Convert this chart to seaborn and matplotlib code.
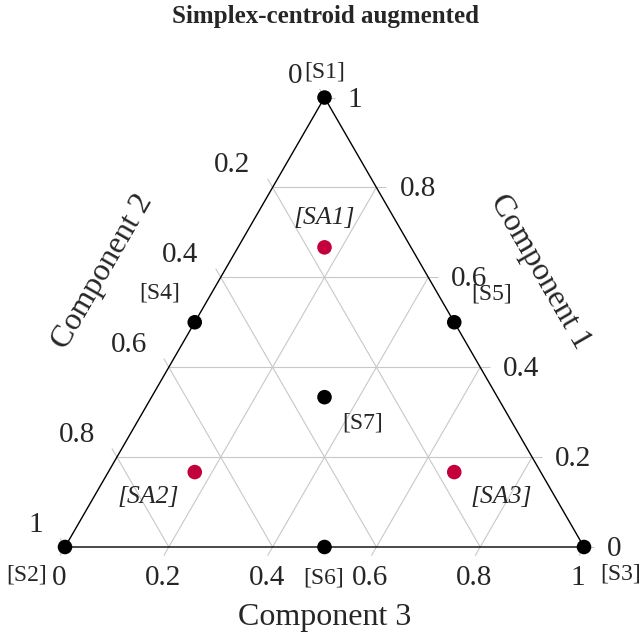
import numpy as np
import pandas as pd
import matplotlib
matplotlib.use("Agg")
import matplotlib.pyplot as plt
import seaborn as sns

# Design points of the augmented simplex-centroid design (three components)
point_names = ["S1", "S2", "S3", "S4", "S5", "S6", "S7", "SA1", "SA2", "SA3"]
comp1 = [1, 0, 0, 1/2, 1/2, 0, 1/3, 2/3, 1/6, 1/6]
comp2 = [0, 1, 0, 1/2, 0, 1/2, 1/3, 1/6, 2/3, 1/6]
comp3 = [0, 0, 1, 0, 1/2, 1/2, 1/3, 1/6, 1/6, 2/3]
point_kind = ["design"] * 7 + ["augmented"] * 3

tick_values = [0, 0.2, 0.4, 0.6, 0.8, 1]
tick_labels = ["0", "0.2", "0.4", "0.6", "0.8", "1"]

title = "Simplex-centroid augmented"
axis_titles = ["Component 1", "Component 2", "Component 3"]

sns.set_theme(style="white")
plt.rcParams["font.family"] = ["Liberation Serif", "DejaVu Serif"]

SIDE = 519.0  # triangle side in pixels
H = np.sqrt(3) / 2


def tern(a, b, c):
    """Ternary (c1, c2, c3) -> cartesian; c2 at bottom-left, c3 at bottom-right."""
    a, b, c = np.asarray(a, float), np.asarray(b, float), np.asarray(c, float)
    return c + a / 2, a * H


def px(dx, dy):
    """Pixel offset (y down) -> data offset."""
    return dx / SIDE, -dy / SIDE


fig = plt.figure(figsize=(6.43, 6.40), dpi=100)
ax = fig.add_axes([0, 0, 1, 1])
ax.set_xlim(-65 / SIDE, 578 / SIDE)
ax.set_ylim(-93 / SIDE, 547 / SIDE)
ax.axis("off")

grid_kw = dict(color="#c8c8c8", lw=0.8, zorder=1, solid_capstyle="butt")
tick_len = 10 / SIDE

# Grid lines and outward tick marks for each component
for v in tick_values:
    # Component 1: horizontal lines, ticks leave the right edge
    x0, y0 = tern(v, 1 - v, 0)
    x1, y1 = tern(v, 0, 1 - v)
    if 0 < v < 1:
        ax.plot([x0, x1], [y0, y1], **grid_kw)
    ax.plot([x1, x1 + tick_len], [y1, y1], **grid_kw)
    # Component 2: lines parallel to the right edge, ticks leave the left edge
    x0, y0 = tern(1 - v, v, 0)
    x1, y1 = tern(0, v, 1 - v)
    if 0 < v < 1:
        ax.plot([x0, x1], [y0, y1], **grid_kw)
    ax.plot([x0, x0 - 0.5 * tick_len], [y0, y0 + H * tick_len], **grid_kw)
    # Component 3: lines parallel to the left edge, ticks leave the bottom edge
    x0, y0 = tern(0, 1 - v, v)
    x1, y1 = tern(1 - v, 0, v)
    if 0 < v < 1:
        ax.plot([x0, x1], [y0, y1], **grid_kw)
    ax.plot([x0, x0 - 0.5 * tick_len], [y0, y0 - H * tick_len], **grid_kw)

# Triangle outline
tx, ty = tern([1, 0, 0, 1], [0, 1, 0, 0], [0, 0, 1, 0])
ax.plot(tx, ty, color="black", lw=1.0, zorder=2)

# Tick labels
tick_fs = 21
for v, lab in zip(tick_values, tick_labels):
    x, y = tern(v, 0, 1 - v)
    dx, dy = px(23, 2)
    ax.text(x + dx, y + dy, lab, ha="left", va="center", fontsize=tick_fs)
    x, y = tern(1 - v, v, 0)
    dx, dy = px(-22, -22)
    ax.text(x + dx, y + dy, lab, ha="right", va="center", fontsize=tick_fs)
    x, y = tern(0, 1 - v, v)
    dx, dy = px(-6, 31)
    ax.text(x + dx, y + dy, lab, ha="center", va="center", fontsize=tick_fs)

# Axis titles
title_fs = 23
cx, cy = px(540 - 65, 272 - 547)
ax.text(cx, cy, axis_titles[0], rotation=-60, ha="center", va="center",
        fontsize=title_fs, rotation_mode="anchor")
cx, cy = px(103 - 65, 272 - 547)
ax.text(cx, cy, axis_titles[1], rotation=60, ha="center", va="center",
        fontsize=title_fs, rotation_mode="anchor")
cx, cy = px(325 - 65, 618 - 547)
ax.text(cx, cy, axis_titles[2], ha="center", va="center", fontsize=title_fs)

# Points
xs, ys = tern(comp1, comp2, comp3)
df = pd.DataFrame({"name": point_names, "x": xs, "y": ys, "kind": point_kind})
sns.scatterplot(data=df, x="x", y="y", hue="kind",
                palette={"design": "black", "augmented": "#c4003c"},
                s=110, edgecolor="none", linewidth=0, legend=False,
                ax=ax, zorder=5, clip_on=False)

# Point labels, offset in pixels from each point
label_offsets = {
    "S1": (0, -26), "S2": (-38, 28), "S3": (37, 27), "S4": (-35, -29),
    "S5": (37, -28), "S6": (-1, 31), "S7": (38, 26),
    "SA1": (0, -29), "SA2": (-46, 25), "SA3": (47, 25),
}
for _, row in df.iterrows():
    dx, dy = px(*label_offsets[row["name"]])
    italic = row["kind"] == "augmented"
    ax.text(row["x"] + dx, row["y"] + dy, f"[{row['name']}]", ha="center",
            va="center", fontsize=18.5 if italic else 17,
            style="italic" if italic else "normal", zorder=6)

fig.text(325 / 643, 1 - 17 / 640, title, ha="center", va="center",
         fontsize=18, fontweight="bold")

fig.savefig("out.png", dpi=100, facecolor="white")
